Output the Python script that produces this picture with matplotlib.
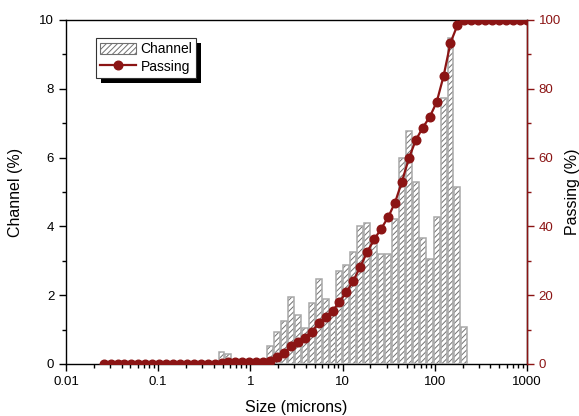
import numpy as np
import matplotlib
matplotlib.use("Agg")
import matplotlib.pyplot as plt
from matplotlib.ticker import FixedLocator, FuncFormatter, MultipleLocator, LogLocator, NullFormatter
from matplotlib.patches import Patch, Rectangle
from matplotlib.lines import Line2D

plt.rcParams['font.family'] = ['Liberation Sans', 'DejaVu Sans']
plt.rcParams['hatch.linewidth'] = 0.7

# Size channels (microns)
sizes = [0.0256, 0.0304, 0.0362, 0.0430, 0.0511, 0.0608, 0.0723, 0.0860, 0.1022, 0.1216,
         0.1446, 0.172, 0.2045, 0.2432, 0.2892, 0.344, 0.409, 0.486, 0.578, 0.688,
         0.818, 0.972, 1.156, 1.375, 1.635, 1.945, 2.312, 2.75, 3.27, 3.89,
         4.62, 5.5, 6.54, 7.78, 9.25, 11.0, 13.08, 15.56, 18.5, 22.0,
         26.16, 31.11, 37.0, 44.0, 52.33, 62.23, 74.0, 88.0, 104.7, 124.5,
         148.0, 176.0, 209.3, 248.9, 296.0, 352.0, 418.6, 497.8, 592.0, 704.0,
         837.0, 995.6]

# Channel (%)
channel = [0, 0, 0, 0, 0, 0, 0, 0, 0, 0,
           0, 0, 0, 0, 0, 0, 0, 0.34, 0.28, 0,
           0, 0, 0, 0, 0.52, 0.92, 1.25, 1.95, 1.41, 1.04,
           1.76, 2.47, 1.89, 1.55, 2.69, 2.88, 3.25, 4.01, 4.11, 3.55,
           3.19, 3.19, 4.22, 6.0, 6.78, 5.3, 3.67, 3.05, 4.26, 7.72,
           9.47, 5.14, 1.07, 0, 0, 0, 0, 0, 0, 0,
           0, 0]

# Passing (%)
passing = [0, 0, 0, 0, 0, 0, 0, 0, 0, 0,
           0, 0, 0, 0, 0, 0, 0, 0.3, 0.6, 0.6,
           0.6, 0.6, 0.6, 0.6, 1.0, 1.9, 3.2, 5.1, 6.5, 7.7,
           9.4, 11.8, 13.8, 15.4, 18.1, 20.9, 24.2, 28.3, 32.6, 36.2,
           39.3, 42.6, 46.9, 53.0, 59.8, 65.1, 68.7, 71.8, 76.1, 83.7,
           93.4, 98.5, 100, 100, 100, 100, 100, 100, 100, 100,
           100, 100]

xtick_vals = [0.01, 0.1, 1, 10, 100, 1000]
xtick_labels = ["0.01", "0.1", "1", "10", "100", "1000"]

RED = '#8B1414'
HATCH_C = '#707070'
EDGE_C = '#a8a8a8'

fig = plt.figure(figsize=(5.79, 4.16), dpi=100)
ax = fig.add_axes([66/579, 52/416, 461/579, 344/416])

s = np.array(sizes)
c = np.array(channel)
mask = c > 0
ratio = 2 ** (1 / 8)
f = ratio ** 0.86
left = s[mask] / f
width = s[mask] * f - left

ax.bar(left, c[mask], width=width, align='edge', facecolor='white',
       edgecolor=HATCH_C, hatch='//////', linewidth=0, zorder=2)
ax.bar(left, c[mask], width=width, align='edge', fill=False,
       edgecolor=EDGE_C, linewidth=1.1, zorder=3)

ax.set_xscale('log')
ax.set_xlim(0.01, 1000)
ax.set_ylim(0, 10)
ax.xaxis.set_major_locator(FixedLocator(xtick_vals))
ax.xaxis.set_major_formatter(FuncFormatter(lambda v, p: xtick_labels[xtick_vals.index(v)] if v in xtick_vals else ""))
ax.xaxis.set_minor_locator(LogLocator(base=10, subs=np.arange(2, 10), numticks=20))
ax.xaxis.set_minor_formatter(NullFormatter())
ax.yaxis.set_major_locator(MultipleLocator(2))
ax.yaxis.set_minor_locator(MultipleLocator(1))
ax.tick_params(axis='both', which='major', direction='out', length=5, width=1, labelsize=9.5)
ax.tick_params(axis='both', which='minor', direction='out', length=3, width=1)
ax.tick_params(axis='x', which='both', top=False)
ax.set_xlabel('Size (microns)', fontsize=11.5, labelpad=9)
ax.set_ylabel('Channel (%)', fontsize=11.5, labelpad=12)
for sp in ax.spines.values():
    sp.set_linewidth(1.0)

ax2 = ax.twinx()
ax2.plot(sizes, passing, color=RED, linewidth=1.6, marker='o', markersize=6.2,
         markerfacecolor=RED, markeredgecolor=RED, zorder=4)
ax2.set_ylim(0, 100)
ax2.yaxis.set_major_locator(MultipleLocator(20))
ax2.yaxis.set_minor_locator(MultipleLocator(10))
ax2.tick_params(axis='y', which='major', direction='out', length=5, width=1, colors=RED, labelsize=9.5)
ax2.tick_params(axis='y', which='minor', direction='out', length=3, width=1, colors=RED)
ax2.spines['right'].set_color(RED)
ax2.spines['right'].set_linewidth(1.0)
ax2.spines['left'].set_visible(False)
ax2.spines['bottom'].set_visible(False)
ax2.spines['top'].set_visible(False)
ax2.set_ylabel('Passing (%)', fontsize=11.5, labelpad=3)

handles = [Patch(facecolor='white', edgecolor=HATCH_C, hatch='//////', linewidth=0.8),
           Line2D([], [], color=RED, linewidth=1.6, marker='o', markersize=6.2,
                  markerfacecolor=RED, markeredgecolor=RED)]
leg = ax2.legend(handles, ['Channel', 'Passing'], loc='upper left',
                 bbox_to_anchor=(30/461, 1 - 18/344), fontsize=10, frameon=True,
                 fancybox=False, edgecolor='#333333', framealpha=1,
                 handlelength=2.6, handleheight=0.9, handletextpad=0.3, borderpad=0.3,
                 labelspacing=0.25, borderaxespad=0)
leg.get_frame().set_linewidth(0.8)
leg.set_zorder(10)

fig.canvas.draw()
bb = leg.get_window_extent()
off = 5
shadow = Rectangle((bb.x0 + off, bb.y0 - off), bb.width, bb.height,
                   transform=None, facecolor='black', edgecolor='none', zorder=9)
ax2.add_artist(shadow)

fig.savefig('out.png', dpi=100)
